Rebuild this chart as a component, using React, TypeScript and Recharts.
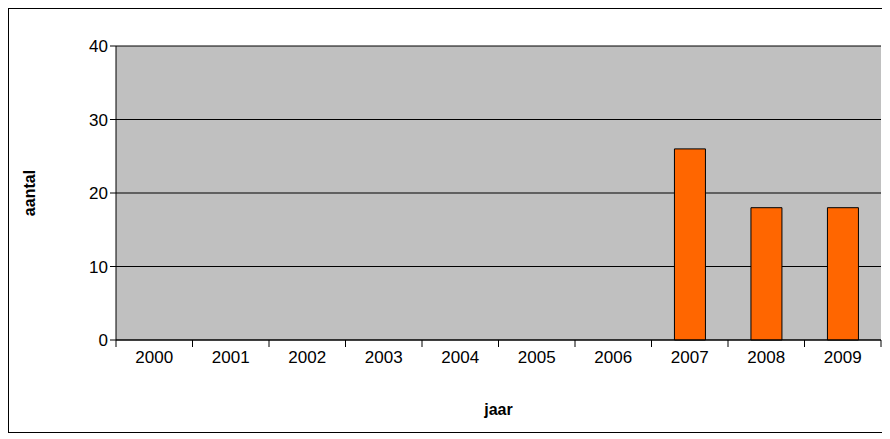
import React from 'react';
import { BarChart, Bar, XAxis, YAxis, CartesianGrid } from 'recharts';

const years = ['2000','2001','2002','2003','2004','2005','2006','2007','2008','2009'];
const counts = [0,0,0,0,0,0,0,26,18,18];
const yTicks = [0,10,20,30,40];
const data = years.map((y, i) => ({ year: y, aantal: counts[i] }));

const W = 873, H = 423;
const ML = 47, YW = 60, MR = 1;
const band = (W - ML - YW - MR) / years.length;
const FONT = 'Arial, Liberation Sans';

const XTick = (props: any) => {
  const { x, y, payload, index } = props;
  const top = y - 8;
  return (
    <g>
      <line x1={x - band / 2} x2={x - band / 2} y1={top} y2={top + 7} stroke="#000" />
      {index === years.length - 1 && (
        <line x1={x + band / 2} x2={x + band / 2} y1={top} y2={top + 7} stroke="#000" />
      )}
      <text x={x} y={top + 23} textAnchor="middle" fontSize={17} fill="#000" fontFamily={FONT}>
        {payload.value}
      </text>
    </g>
  );
};

const YLabel = (props: any) => {
  const vb = props.viewBox || {};
  const cx = 20;
  const cy = vb.y + vb.height / 2;
  return (
    <text x={cx} y={cy} transform={`rotate(-90 ${cx} ${cy})`} textAnchor="middle" dominantBaseline="central"
      fontSize={16} fontWeight="bold" fill="#000" fontFamily={FONT}>aantal</text>
  );
};

export default function App() {
  return (
    <div style={{ width: W, height: H, border: '1px solid #000', background: '#fff' }}>
      <BarChart width={W} height={H} data={data} margin={{ top: 37, right: MR, left: ML, bottom: 0 }} barCategoryGap="30%">
        <CartesianGrid vertical={false} stroke="#000" fill="#C0C0C0" fillOpacity={1} />
        <XAxis dataKey="year" tickLine={false} stroke="#000" tick={<XTick />} height={92}
          label={{ value: 'jaar', position: 'insideBottom', offset: 17, fontSize: 16, fontWeight: 'bold', fill: '#000', fontFamily: FONT }} />
        <YAxis width={YW} domain={[0, 40]} ticks={yTicks} stroke="#000" tickSize={6}
          tick={{ fontSize: 17, fill: '#000', fontFamily: FONT }}
          label={<YLabel />} />
        <Bar dataKey="aantal" fill="#FF6600" stroke="#000" strokeWidth={1} isAnimationActive={false} />
      </BarChart>
    </div>
  );
}
